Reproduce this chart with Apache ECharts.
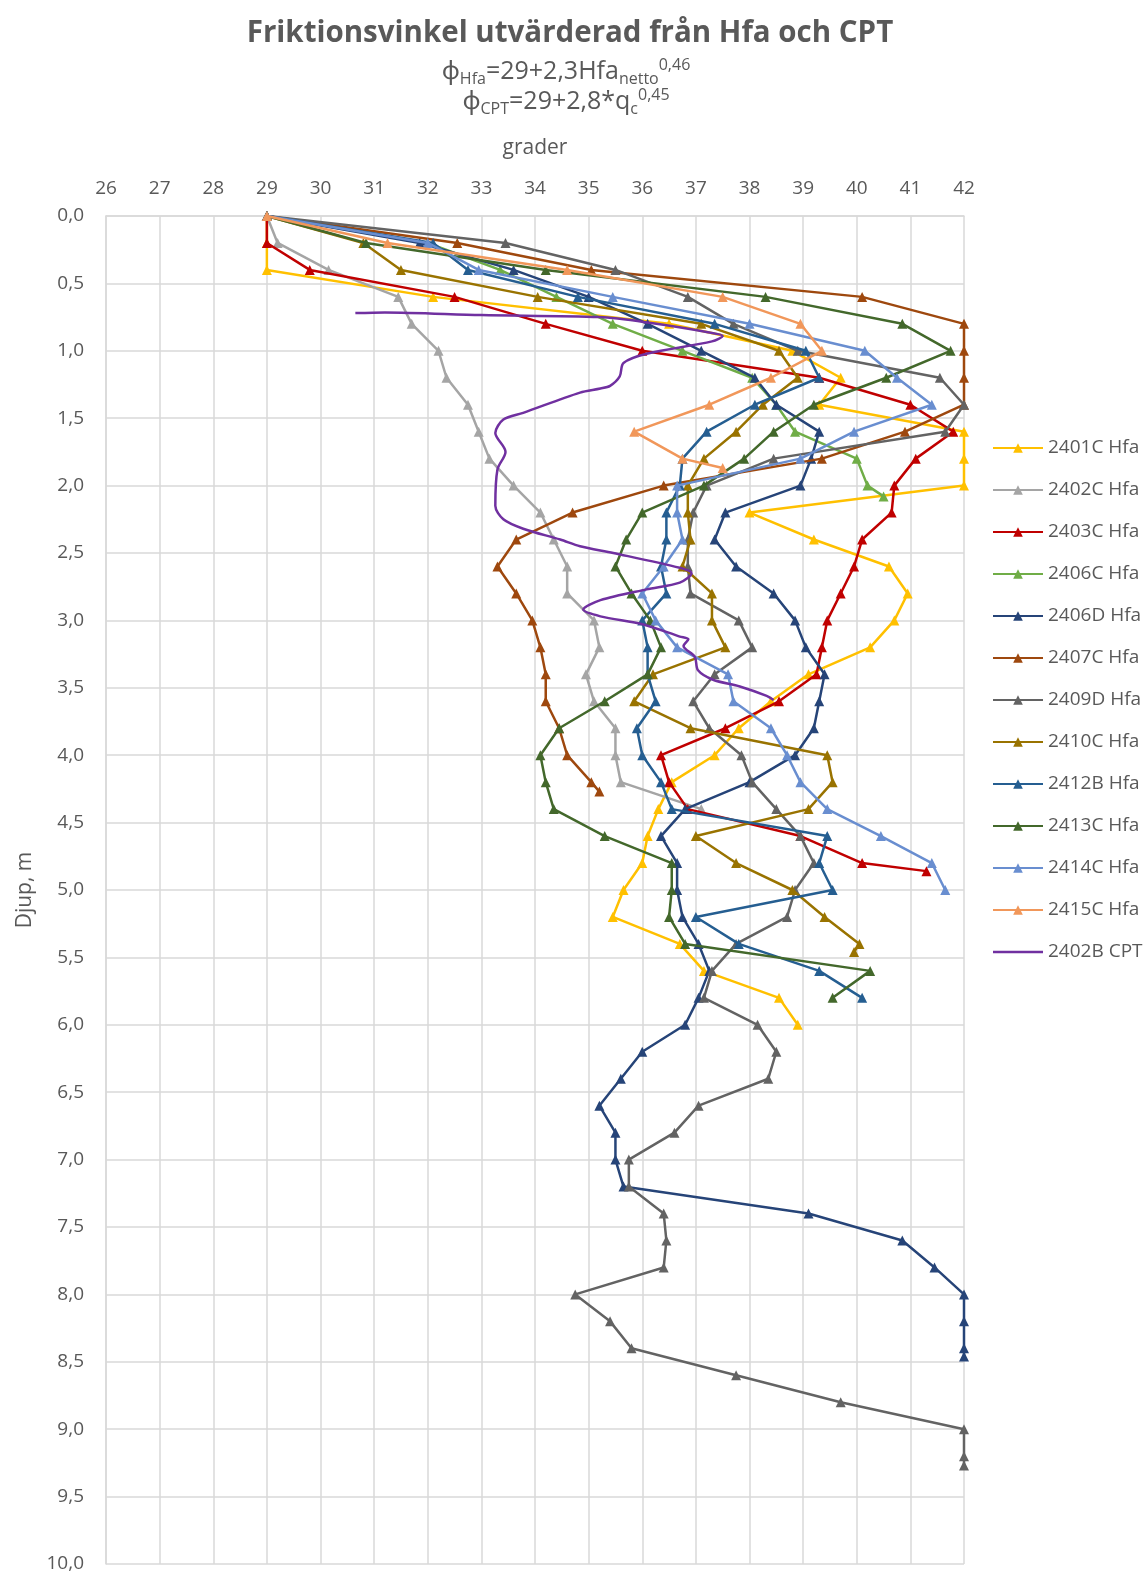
<!DOCTYPE html>
<html>
<head>
<meta charset="utf-8">
<script src="https://cdn.jsdelivr.net/npm/echarts@6/dist/echarts.min.js"></script>
<style>
  html, body { margin: 0; padding: 0; background: #ffffff; }
  #chart { width: 1148px; height: 1574px; }
</style>
</head>
<body>
<div id="chart"></div>
<script>
// Sounding depths (m), 0.2 m steps
const DEPTHS = [0, 0.2, 0.4, 0.6, 0.8, 1.0, 1.2, 1.4, 1.6, 1.8, 2.0, 2.2, 2.4, 2.6, 2.8, 3.0,
  3.2, 3.4, 3.6, 3.8, 4.0, 4.2, 4.4, 4.6, 4.8, 5.0, 5.2, 5.4, 5.6, 5.8, 6.0, 6.2, 6.4, 6.6,
  6.8, 7.0, 7.2, 7.4, 7.6, 7.8, 8.0, 8.2, 8.4, 8.6, 8.8, 9.0, 9.2];

// Friction angle (degrees) per Hfa sounding, one value per depth step
const v2401C = [29, 29, 29, 32.1, 36.5, 38.8, 39.7, 39.3, 42, 42, 42, 38.0, 39.2, 40.6, 40.95, 40.7,
  40.25, 39.1, 38.4, 37.8, 37.35, 36.55, 36.3, 36.1, 36.0, 35.65, 35.45, 36.7, 37.15, 38.55, 38.9];
const v2402C = [29, 29.2, 30.15, 31.45, 31.7, 32.2, 32.35, 32.75, 32.95, 33.15, 33.6, 34.1, 34.35,
  34.6, 34.6, 35.1, 35.2, 34.95, 35.1, 35.5, 35.5, 35.6, 37.1];
const v2403C = [29, 29, 29.8, 32.5, 34.2, 36.0, 39.3, 41.0, 41.8, 41.1, 40.7, 40.65, 40.1, 39.95,
  39.7, 39.45, 39.35, 39.25, 38.55, 37.55, 36.35, 36.5, 36.85, 38.95, 40.1, 41.3];
const v2406C = [29, 32.0, 33.35, 34.4, 35.45, 36.75, 38.05, 38.5, 38.85, 40.0, 40.2, 40.5];
const v2406D = [29, 31.85, 33.6, 35.0, 36.1, 37.1, 38.1, 38.5, 39.3, 39.15, 38.95, 37.55, 37.35,
  37.75, 38.45, 38.85, 39.05, 39.4, 39.3, 39.2, 38.85, 38.0, 36.8, 36.35, 36.65, 36.65, 36.75,
  37.05, 37.25, 37.05, 36.8, 36.0, 35.6, 35.2, 35.5, 35.5, 35.65, 39.1, 40.85, 41.45, 42, 42, 42, 42];
const v2407C = [29, 32.55, 35.05, 40.1, 42, 42, 42, 42, 40.9, 39.35, 36.4, 34.7, 33.65, 33.3, 33.65,
  33.95, 34.1, 34.2, 34.2, 34.45, 34.6, 35.05, 35.2];
const v2409D = [29, 33.45, 35.5, 36.85, 37.7, 38.9, 41.55, 42, 41.65, 38.45, 37.2, 36.95, 36.85,
  36.85, 36.9, 37.8, 38.05, 37.35, 36.95, 37.25, 37.85, 38.05, 38.5, 38.95, 39.2, 38.85, 38.7,
  37.75, 37.3, 37.15, 38.15, 38.5, 38.35, 37.05, 36.6, 35.75, 35.75, 36.4, 36.45, 36.4, 34.75,
  35.4, 35.8, 37.75, 39.7, 42, 42, 42];
const v2410C = [29, 30.8, 31.5, 34.05, 37.1, 38.55, 38.9, 38.25, 37.75, 37.15, 36.85, 36.85, 36.9,
  36.75, 37.3, 37.3, 37.55, 36.2, 35.85, 36.9, 39.45, 39.55, 39.1, 37.0, 37.75, 38.8, 39.4, 40.05, 39.95];
const v2412B = [29, 32.1, 32.75, 34.8, 37.35, 39.05, 39.3, 38.1, 37.2, 36.75, 36.7, 36.45, 36.45,
  36.35, 36.45, 36.0, 36.1, 36.1, 36.25, 35.9, 36.0, 36.35, 36.55, 39.45, 39.3, 39.55, 37.0, 37.8, 39.3, 40.1];
const v2413C = [29, 30.85, 34.2, 38.3, 40.85, 41.75, 40.55, 39.2, 38.45, 37.9, 37.15, 36.0, 35.7,
  35.5, 35.8, 36.15, 36.35, 36.1, 35.3, 34.45, 34.1, 34.2, 34.35, 35.3, 36.55, 36.55, 36.5, 36.8, 40.25, 39.55];
const v2414C = [29, 32.0, 32.95, 35.45, 38.0, 40.15, 40.75, 41.4, 39.95, 38.95, 36.65, 36.65, 36.75,
  36.4, 36.0, 36.25, 36.65, 37.6, 37.7, 38.4, 38.7, 38.95, 39.45, 40.45, 41.4, 41.65];
const v2415C = [29, 31.25, 34.6, 37.5, 38.95, 39.35, 38.4, 37.25, 35.85, 36.75, 37.5];

// Final (stop) depth where a sounding ended between regular steps
const stop2403C = [4.86];
const stop2406C = [2.08];
const stop2406D = [8.46];
const stop2407C = [4.27];
const stop2409D = [9.27];
const stop2410C = [5.46];
const stop2415C = [1.87];

// CPT 2402B: friction angle and depth along the continuous profile
const cptDeg = [30.65, 31.2, 33.0, 35.2, 36.1, 37.2, 37.5, 37.3, 36.1, 35.65, 35.58, 35.4, 35.22,
  34.84, 33.78, 33.41, 33.26, 33.45, 33.3, 33.26, 33.41, 33.78, 34.47, 34.84, 35.46, 36.7, 36.92,
  36.7, 36.08, 35.22, 34.9, 35.22, 36.02, 36.7, 36.86, 36.77, 36.98, 37.04, 37.32, 37.82, 38.32, 38.45];
const cptDepth = [0.72, 0.715, 0.735, 0.75, 0.79, 0.86, 0.89, 0.93, 1.02, 1.09, 1.19, 1.26, 1.28,
  1.31, 1.46, 1.51, 1.61, 1.75, 1.88, 2.15, 2.25, 2.32, 2.40, 2.45, 2.50, 2.61, 2.65, 2.72, 2.77,
  2.85, 2.92, 2.97, 3.03, 3.12, 3.14, 3.19, 3.27, 3.37, 3.44, 3.49, 3.56, 3.59];

const seriesNames = ['2401C Hfa', '2402C Hfa', '2403C Hfa', '2406C Hfa', '2406D Hfa', '2407C Hfa',
  '2409D Hfa', '2410C Hfa', '2412B Hfa', '2413C Hfa', '2414C Hfa', '2415C Hfa', '2402B CPT'];

const hfaSets = [
  [v2401C, []], [v2402C, []], [v2403C, stop2403C], [v2406C, stop2406C], [v2406D, stop2406D],
  [v2407C, stop2407C], [v2409D, stop2409D], [v2410C, stop2410C], [v2412B, []], [v2413C, []],
  [v2414C, []], [v2415C, stop2415C]
];

const colors = ['#FFC000', '#A5A5A5', '#C00000', '#70AD47', '#264478', '#9E480E', '#636363',
  '#997300', '#255E91', '#43682B', '#698ED0', '#F1975A', '#7030A0'];

const FONT = '"Open Sans", "Noto Sans", sans-serif';
const TXT = '#595959';

// Thin bar icon for the CPT line (bounding points keep it at full icon size)
const LINE_ICON = 'path://M0,0L0.01,0L0.01,0.01Z M0,4.8L50,4.8L50,7.2L0,7.2Z M49.99,12L50,12L50,11.99Z';

function pairs(values, stops) {
  const depths = DEPTHS.slice(0, values.length - stops.length).concat(stops);
  return values.map((v, i) => [v, depths[i]]);
}

const series = hfaSets.map((set, i) => ({
  name: seriesNames[i],
  type: 'line',
  data: pairs(set[0], set[1]),
  symbol: 'triangle',
  symbolSize: 10,
  lineStyle: { width: 2.5, color: colors[i] },
  itemStyle: { color: colors[i] },
  z: 2 + i
}));

series.push({
  name: seriesNames[12],
  type: 'line',
  data: cptDeg.map((v, i) => [v, cptDepth[i]]),
  symbol: 'none',
  smooth: 0.3,
  lineStyle: { width: 2.5, color: colors[12] },
  itemStyle: { color: colors[12] },
  z: 20
});

const legendData = seriesNames.map((n, i) => i === 12 ? { name: n, icon: LINE_ICON } : { name: n });

const chart = echarts.init(document.getElementById('chart'));
chart.setOption({
  animation: false,
  backgroundColor: '#ffffff',
  color: colors,
  graphic: [
    {
      type: 'text', x: 570, y: 19,
      style: {
        text: 'Friktionsvinkel utvärderad från Hfa och CPT',
        font: 'bold 29.5px ' + FONT, fill: TXT, align: 'center', verticalAlign: 'top'
      }
    },
    {
      type: 'text', x: 566, y: 57,
      style: {
        text: '{t|ϕ}{s|Hfa}{t|=29+2,3Hfa}{s|netto}{p|0,46}\n{t|ϕ}{s|CPT}{t|=29+2,8*q}{s|c}{p|0,45}',
        align: 'center', verticalAlign: 'top', fill: TXT,
        rich: {
          t: { fontSize: 25, fontFamily: FONT, fill: TXT, lineHeight: 30 },
          s: { fontSize: 16, fontFamily: FONT, fill: TXT, lineHeight: 30, verticalAlign: 'bottom' },
          p: { fontSize: 16, fontFamily: FONT, fill: TXT, lineHeight: 30, verticalAlign: 'top' }
        }
      }
    }
  ],
  legend: {
    orient: 'vertical',
    left: 987,
    top: 433,
    itemWidth: 50,
    itemHeight: 12,
    itemGap: 22,
    data: legendData,
    textStyle: { fontFamily: FONT, fontSize: 19, color: TXT, lineHeight: 20 }
  },
  grid: { left: 106, top: 216, width: 858, height: 1348 },
  xAxis: {
    type: 'value',
    position: 'top',
    min: 26, max: 42, interval: 1,
    name: 'grader',
    nameLocation: 'middle',
    nameGap: 57,
    nameTextStyle: { fontFamily: FONT, fontSize: 21, color: TXT },
    axisLine: { show: true, lineStyle: { color: '#D9D9D9', width: 1.5 } },
    axisTick: { show: false },
    splitLine: { show: true, lineStyle: { color: '#D9D9D9', width: 1.5 } },
    axisLabel: { fontFamily: FONT, fontSize: 19, color: TXT, margin: 18 }
  },
  yAxis: {
    type: 'value',
    inverse: true,
    min: 0, max: 10, interval: 0.5,
    name: 'Djup, m',
    nameLocation: 'middle',
    nameGap: 68,
    nameRotate: 90,
    nameTextStyle: { fontFamily: FONT, fontSize: 21, color: TXT },
    axisLine: { show: true, lineStyle: { color: '#D9D9D9', width: 1.5 } },
    axisTick: { show: false },
    splitLine: { show: true, lineStyle: { color: '#D9D9D9', width: 1.5 } },
    axisLabel: {
      fontFamily: FONT, fontSize: 19, color: TXT, margin: 22,
      formatter: v => v.toFixed(1).replace('.', ',')
    }
  },
  series: series
});
</script>
</body>
</html>
